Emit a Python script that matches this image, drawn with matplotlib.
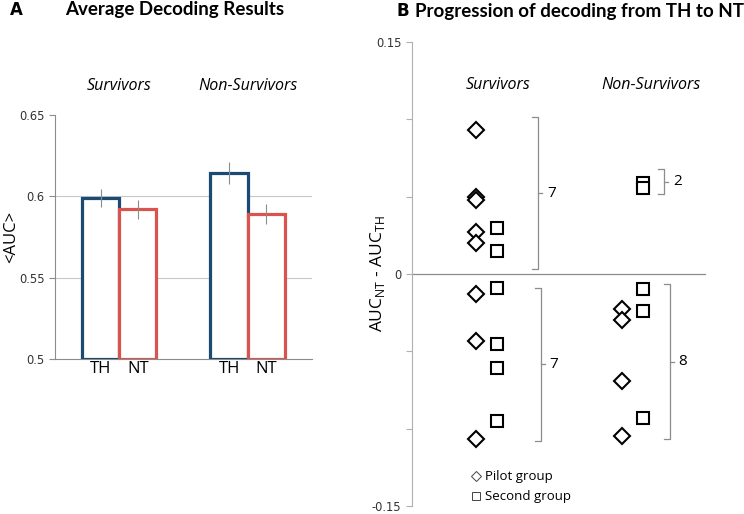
import numpy as np
import matplotlib.pyplot as plt

# Panel A: average AUC per group
groups = ['Survivors', 'Non-Survivors']
auc_th = [0.599, 0.6145]
auc_nt = [0.592, 0.589]
err_th = [0.0055, 0.0068]
err_nt = [0.006, 0.006]

# Panel B: AUC_NT - AUC_TH per patient
surv_pilot = [0.093, 0.050, 0.048, 0.027, 0.020, -0.013, -0.043, -0.107]
surv_second = [0.030, 0.015, -0.009, -0.045, -0.061, -0.095]
nons_pilot = [-0.0225, -0.030, -0.069, -0.105]
nons_second = [0.059, 0.0555, -0.010, -0.024, -0.093]

# brackets: (group index, low, high, count label)
brackets = [(0, 0.003, 0.1015, '7'), (0, -0.108, -0.009, '7'),
            (1, 0.0515, 0.068, '2'), (1, -0.107, -0.0065, '8')]

plt.rcParams['font.family'] = ['Lato', 'DejaVu Sans']
navy = '#1b4a72'
red = '#d9534f'
grey = '#8c8c8c'

fig = plt.figure(figsize=(7.44, 5.14), dpi=100)

# ---------- A ----------
axA = fig.add_axes([0.0739, 0.3016, 0.3454, 0.4747])
x = np.arange(len(groups))
w = 0.29
axA.bar(x - w / 2, np.array(auc_th) - 0.5, w, bottom=0.5, facecolor='white',
        edgecolor=navy, linewidth=2.3, zorder=3)
axA.bar(x + w / 2, np.array(auc_nt) - 0.5, w, bottom=0.5, facecolor='white',
        edgecolor=red, linewidth=2.3, zorder=3)
axA.errorbar(x - w / 2, auc_th, yerr=err_th, fmt='none', ecolor=grey, elinewidth=0.8, zorder=4)
axA.errorbar(x + w / 2, auc_nt, yerr=err_nt, fmt='none', ecolor=grey, elinewidth=0.8, zorder=4)
axA.set_xlim(-0.5, 1.5)
axA.set_ylim(0.5, 0.65)
axA.set_yticks([0.5, 0.55, 0.6, 0.65])
axA.set_yticklabels(['0.5', '0.55', '0.6', '0.65'], family='DejaVu Sans', fontsize=8.3)
for yv in [0.55, 0.6]:
    axA.axhline(yv, color='#c8c8c8', linewidth=0.8, zorder=1)
axA.set_xticks([])
for s in ['top', 'right']:
    axA.spines[s].set_visible(False)
axA.spines['left'].set_color(grey)
axA.spines['bottom'].set_color(grey)
axA.tick_params(axis='y', colors='#333333', length=4, width=0.8, color=grey)
for i in range(len(groups)):
    axA.text(i - w / 2, 0.4985, 'TH', ha='center', va='top', fontsize=12,
             family='Open Sans')
    axA.text(i + w / 2, 0.4985, 'NT', ha='center', va='top', fontsize=12,
             family='Open Sans')
    axA.text(i, 0.668, groups[i], ha='center', va='center', fontsize=11.5,
             style='italic', family='Open Sans')
axA.set_ylabel('<AUC>', fontsize=12, family='Open Sans')
axA.yaxis.set_label_coords(-0.14, 0.5)

fig.text(10 / 744, 1 - 10 / 514, 'A', fontsize=12, fontweight='bold', va='center',
         family='DejaVu Sans')
fig.text(65 / 744, 1 - 10 / 514, 'Average Decoding Results', fontsize=13.5,
         fontweight='bold', va='center')

# ---------- B ----------
axB = fig.add_axes([0.5538, 0.01556, 0.3938, 0.9027])
axB.set_xlim(0, 10)
axB.set_ylim(-0.15, 0.15)
centers = [2.53, 7.51]
off = 0.36
mk = dict(markerfacecolor='white', markeredgecolor='black', markeredgewidth=1.5,
          linestyle='none', zorder=3)
axB.plot([centers[0] - off] * len(surv_pilot), surv_pilot, marker='D', markersize=8, **mk)
axB.plot([centers[0] + off] * len(surv_second), surv_second, marker='s', markersize=9, **mk)
axB.plot([centers[1] - off] * len(nons_pilot), nons_pilot, marker='D', markersize=8, **mk)
axB.plot([centers[1] + off] * len(nons_second), nons_second, marker='s', markersize=9, **mk)

axB.axhline(0, color=grey, linewidth=0.9, zorder=1)
axB.set_yticks(np.arange(-0.15, 0.151, 0.05))
axB.set_yticklabels(['-0.15', '', '', '0', '', '', '0.15'], family='DejaVu Sans', fontsize=8.3)
axB.set_xticks([])
for s in ['top', 'right', 'bottom']:
    axB.spines[s].set_visible(False)
axB.spines['left'].set_color('#b0b0b0')
axB.tick_params(axis='y', colors='#333333', length=4, width=0.8, color='#b0b0b0')
axB.set_ylabel(r'AUC$_{\mathregular{NT}}$ - AUC$_{\mathregular{TH}}$', fontsize=12.5,
               family='Open Sans')
axB.yaxis.set_label_coords(-0.085, 0.5)

bx = [4.3, 8.6]
bxl = [4.4, 8.8]
for gi, lo, hi, lab in brackets:
    xb = bx[gi] if lo > 0 else bxl[gi]
    axB.plot([xb - 0.2, xb, xb, xb - 0.2], [hi, hi, lo, lo], color=grey, linewidth=0.9)
    mid = (lo + hi) / 2
    axB.plot([xb, xb + 0.15], [mid, mid], color=grey, linewidth=0.9)
    axB.text(xb + 0.3, mid, lab, ha='left', va='center', fontsize=11, family='Open Sans')

axB.text(2.93, 0.1223, 'Survivors', ha='center', va='center', fontsize=11.5,
         style='italic', family='Open Sans')
axB.text(8.17, 0.1223, 'Non-Survivors', ha='center', va='center', fontsize=11.5,
         style='italic', family='Open Sans')

# legend
axB.plot([2.2], [-0.1308], marker='D', markersize=5, markerfacecolor='white',
         markeredgecolor='#444444', markeredgewidth=0.7, linestyle='none')
axB.plot([2.2], [-0.1437], marker='s', markersize=6, markerfacecolor='white',
         markeredgecolor='#444444', markeredgewidth=0.7, linestyle='none')
axB.text(2.5, -0.1308, 'Pilot group', va='center', fontsize=9.5, family='Open Sans')
axB.text(2.5, -0.1437, 'Second group', va='center', fontsize=9.5, family='Open Sans')
for ln in axB.lines:
    ln.set_clip_on(False)

fig.text(397 / 744, 1 - 11 / 514, 'B', fontsize=12, fontweight='bold', va='center',
         family='DejaVu Sans')
fig.text(415 / 744, 1 - 11 / 514, 'Progression of decoding from TH to NT', fontsize=13.5,
         fontweight='bold', va='center')

fig.savefig('out.png', dpi=100)
